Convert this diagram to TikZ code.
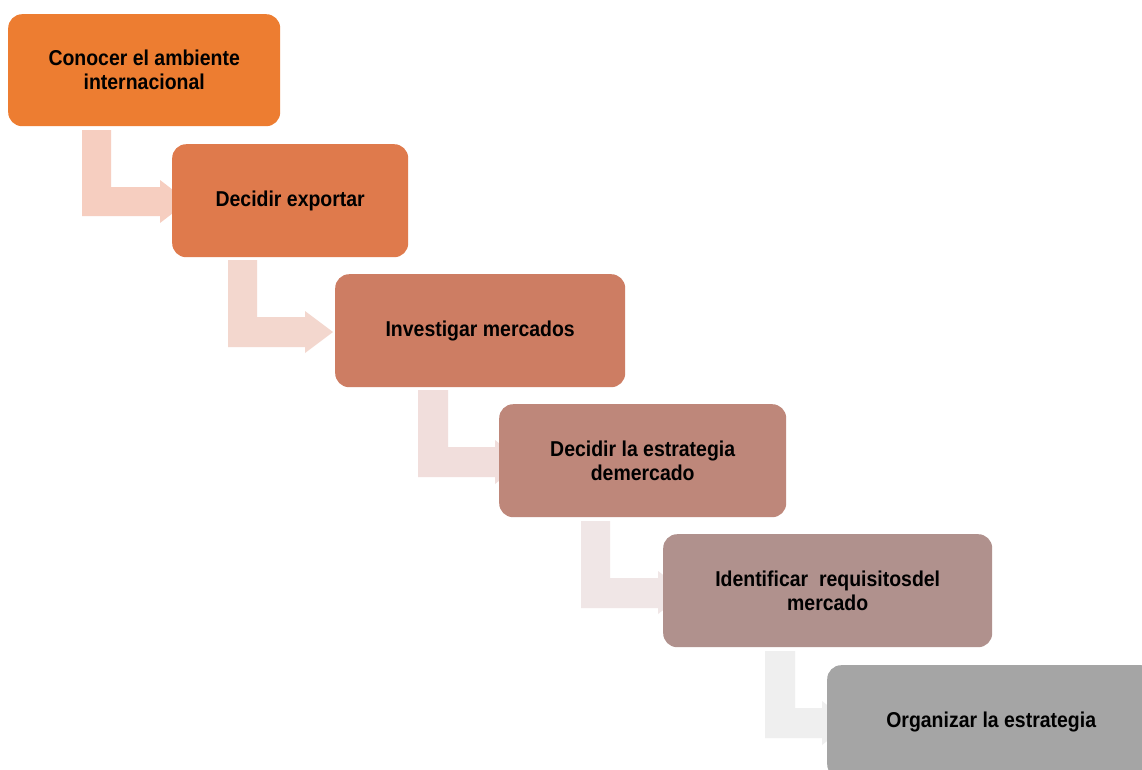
\documentclass[tikz,border=0pt]{standalone}
\usepackage{fontspec}
\setmainfont{Liberation Sans}[FakeStretch=0.905]
\begin{document}
\begin{tikzpicture}[x=1pt,y=-1pt,
  stepbox/.style={rounded corners=14pt, inner sep=0pt, anchor=north west,
    font=\bfseries\fontsize{21.5}{24}\selectfont, text=black, align=center},
]
\definecolor{c1}{HTML}{ED7D31}
\definecolor{c2}{HTML}{DF7A4C}
\definecolor{c3}{HTML}{CD7D63}
\definecolor{c4}{HTML}{BE877A}
\definecolor{c5}{HTML}{B0918D}
\definecolor{c6}{HTML}{A5A5A5}
\definecolor{a1}{HTML}{F6CEC0}
\definecolor{a2}{HTML}{F3D7CE}
\definecolor{a3}{HTML}{F1DEDC}
\definecolor{a4}{HTML}{F0E6E6}
\definecolor{a5}{HTML}{EFEFEF}
\useasboundingbox (0,0) rectangle (1142,769);
\clip (0,0) rectangle (1142,769);
\fill[white] (0,0) rectangle (1142,769);

% bent arrow, filled with \arrowcol: #1,#2 stem x-range; #3 stem top;
% #4,#5 bar y-range; #6 head base x; #7,#8 head y-range; #9 tip x
\newcommand\bentarrow[9]{%
  \fill[\arrowcol] (#1,#3) -- (#2,#3) -- (#2,#4) -- (#6,#4) -- (#6,#7)
    -- (#9,{(#7+#8)/2}) -- (#6,#8) -- (#6,#5) -- (#1,#5) -- cycle;}

\def\arrowcol{a1}\bentarrow{82}{111}{130}{187}{216}{160}{180}{223}{188}
\def\arrowcol{a2}\bentarrow{228}{257}{260}{317}{347}{305}{311}{353}{333}
\def\arrowcol{a3}\bentarrow{418}{448}{390}{447}{477}{495}{440}{484}{523}
\def\arrowcol{a4}\bentarrow{581}{610}{521}{578}{608}{658}{571}{614}{686}
\def\arrowcol{a5}\bentarrow{765}{795}{651}{708}{738}{822}{701}{745}{850}

% process steps
\node[stepbox, fill=c1, minimum width=272pt, minimum height=112pt] (s1) at (8,14)
  {Conocer el ambiente\\internacional};
\node[stepbox, fill=c2, minimum width=236pt, minimum height=113pt] (s2) at (172,144)
  {Decidir exportar};
\node[stepbox, fill=c3, minimum width=290pt, minimum height=113pt] (s3) at (335,274)
  {Investigar mercados};
\node[stepbox, fill=c4, minimum width=287pt, minimum height=113pt] (s4) at (499,404)
  {Decidir la estrategia\\demercado};
\node[stepbox, fill=c5, minimum width=329pt, minimum height=113pt] (s5) at (663,534)
  {Identificar\ \ requisitosdel\\mercado};
\node[stepbox, fill=c6, minimum width=328pt, minimum height=113pt] (s6) at (827,665)
  {Organizar la estrategia};
\end{tikzpicture}
\end{document}
